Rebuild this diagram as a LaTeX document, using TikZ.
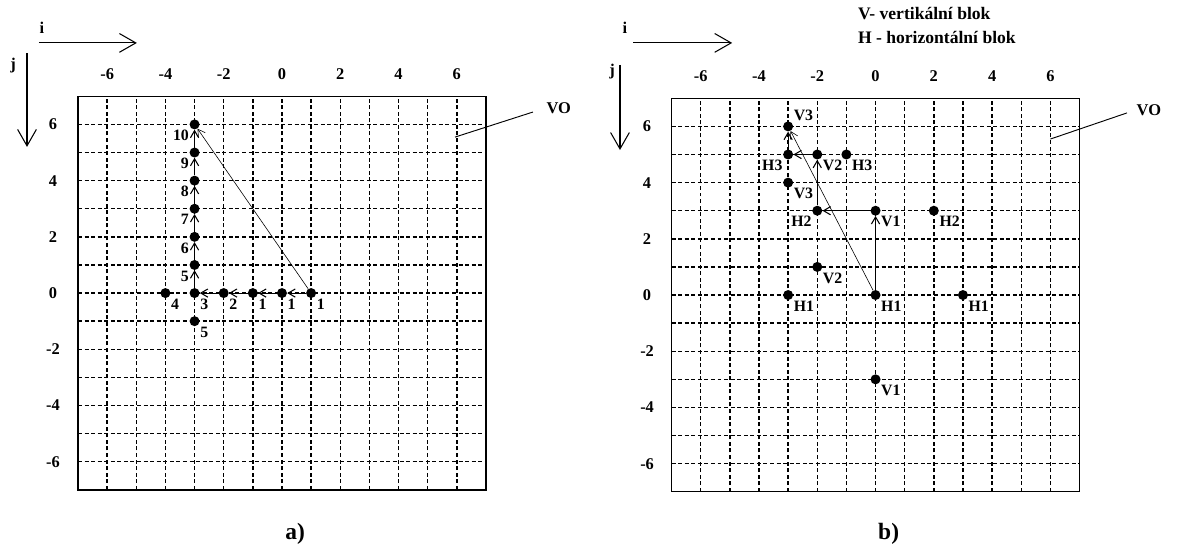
\documentclass[tikz,border=0pt]{standalone}
\usepackage{fontspec}
\setmainfont{Liberation Serif}
\usetikzlibrary{arrows.meta}
\tikzset{
  pnt/.style={circle,fill,inner sep=0pt,minimum size=0.3cm},
  num/.style={font=\fontsize{14}{16}\selectfont\bfseries,inner sep=1.5pt},
  tag/.style={font=\fontsize{13.5}{15}\selectfont\bfseries,inner sep=1.5pt},
  legend/.style={font=\fontsize{15}{17}\selectfont\bfseries,inner sep=1pt,anchor=west},
  subcap/.style={font=\fontsize{20}{22}\selectfont\bfseries},
  gridline/.style={line width=1.2pt,dash pattern=on 3.4pt off 2.2pt},
  hop/.style={line width=0.9pt,-{Straight Barb[length=6pt,width=7pt]}},
  jump/.style={line width=0.5pt,-{Straight Barb[length=6pt,width=7pt]}},
  axis/.style={line width=0.9pt,-{Straight Barb[length=14pt,width=16pt]}},
}
\begin{document}
\begin{tikzpicture}[x=0.874cm,y=0.843cm]
\useasboundingbox (-9.677,-9.181) rectangle (30.75,10.427);
% a)
\foreach \k in {-6,...,6} {
  \draw[gridline] (\k,-7) -- (\k,7);
  \draw[gridline] (-7,\k) -- (7,\k);
}
\draw[line width=1.2pt] (-7,-7) rectangle (7,7);
\foreach \k in {-6,-4,...,6} {
  \node[num] at (\k,7.8) {\k};
  \node[num] at (-7.86,\k) {\k};
}
\node[num] (ai) at (-8.24,9.43) {i};
\coordinate (ai0) at (-8.34,8.9);
\coordinate (ai1) at (-4.98,8.9);
\draw[axis] (ai0) -- (ai1);
\node[num] (aj) at (-9.23,8.11) {j};
\coordinate (aj0) at (-8.75,8.54);
\coordinate (aj1) at (-8.75,5.2);
\draw[axis] (aj0) -- (aj1);
\node[num] (avo) at (9.5,6.58) {VO};
\coordinate (avo0) at (5.94,5.55);
\coordinate (avo1) at (8.61,6.44);
\draw[line width=0.8pt] (avo0) -- (avo1);
\foreach \k [evaluate=\k as \n using int(\k+4)] in {1,...,6}
  \node[pnt,label={[tag]below left:\n}] (av\k) at (-3,\k) {};
\node[pnt,label={[tag]below right:3}] (ah0) at (-3,0) {};
\node[pnt,label={[tag]below right:2}] (ah1) at (-2,0) {};
\node[pnt,label={[tag]below right:1}] (ah2) at (-1,0) {};
\node[pnt,label={[tag]below right:1}] (ah3) at (0,0) {};
\node[pnt,label={[tag]below right:1}] (ah4) at (1,0) {};
\node[pnt,label={[tag]below right:4}] (aq4) at (-4,0) {};
\node[pnt,label={[tag]below right:5}] (aq5) at (-3,-1) {};
\draw[hop] (ah4) -- (ah3);
\draw[hop] (ah3) -- (ah2);
\draw[hop] (ah2) -- (ah1);
\draw[hop] (ah1) -- (ah0);
\draw[hop] (ah0) -- (av1);
\foreach \k [evaluate=\k as \m using int(\k-1)] in {2,...,6}
  \draw[hop] (av\m) -- (av\k);
\draw[jump] (ah4) -- (av6);
\node[subcap] (acap) at (0.45,-8.58) {a)};
% b)
\begin{scope}[shift={(20.37,-0.07)}]
\foreach \k in {-6,...,6} {
  \draw[gridline] (\k,-7) -- (\k,7);
  \draw[gridline] (-7,\k) -- (7,\k);
}
\draw[line width=1.2pt] (-7,-7) rectangle (7,7);
\foreach \k in {-6,-4,...,6} {
  \node[num] at (\k,7.8) {\k};
  \node[num] at (-7.84,\k) {\k};
}
\node[num] (bi) at (-8.6,9.5) {i};
\coordinate (bi0) at (-8.32,8.97);
\coordinate (bi1) at (-4.92,8.97);
\draw[axis] (bi0) -- (bi1);
\node[num] (bj) at (-9.04,7.94) {j};
\coordinate (bj0) at (-8.77,8.19);
\coordinate (bj1) at (-8.77,5.16);
\draw[axis] (bj0) -- (bj1);
\node[legend] (bleg1) at (-0.65,10.0) {V- vertikální blok};
\node[legend] (bleg2) at (-0.65,9.15) {H - horizontální blok};
\node[num] (bvo) at (9.38,6.58) {VO};
\coordinate (bvo0) at (6,5.55);
\coordinate (bvo1) at (8.63,6.48);
\draw[line width=0.8pt] (bvo0) -- (bvo1);
\node[pnt,label={[tag]below right:H1}] (b1) at (0,0) {};
\node[pnt,label={[tag]below right:V1}] (b2) at (0,3) {};
\node[pnt,label={[tag]below left:H2}] (b3) at (-2,3) {};
\node[pnt,label={[tag]below right:V2}] (b4) at (-2,5) {};
\node[pnt,label={[tag]below left:H3}] (b5) at (-3,5) {};
\node[pnt,label={[tag]above right:V3}] (b6) at (-3,6) {};
\node[pnt,label={[tag]below right:H2}] (bx1) at (2,3) {};
\node[pnt,label={[tag]below right:H3}] (bx2) at (-1,5) {};
\node[pnt,label={[tag]below right:V3}] (bx3) at (-3,4) {};
\node[pnt,label={[tag]below right:V2}] (bx4) at (-2,1) {};
\node[pnt,label={[tag]below right:H1}] (bx5) at (-3,0) {};
\node[pnt,label={[tag]below right:H1}] (bx6) at (3,0) {};
\node[pnt,label={[tag]below right:V1}] (bx7) at (0,-3) {};
\draw[hop] (b1) -- (b2);
\draw[hop] (b2) -- (b3);
\draw[hop] (b3) -- (b4);
\draw[hop] (b4) -- (b5);
\draw[hop] (b5) -- (b6);
\draw[jump] (b1) -- (b6);
\node[subcap] (bcap) at (0.45,-8.5) {b)};
\end{scope}
\end{tikzpicture}
\end{document}
